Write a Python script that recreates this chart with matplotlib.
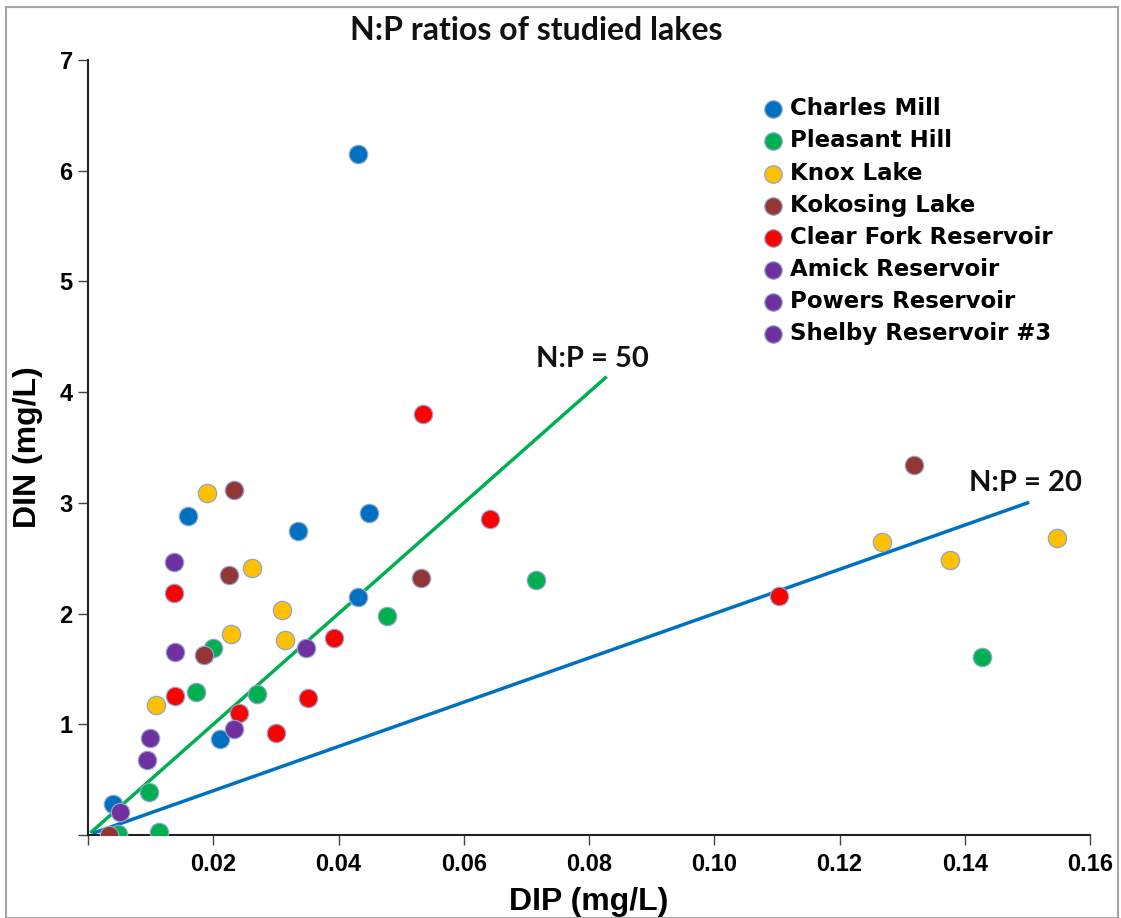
import matplotlib
matplotlib.use("Agg")
import matplotlib.pyplot as plt
from matplotlib.patches import Rectangle

# DIP (mg/L) and DIN (mg/L) per lake
charles_x = [0.0431, 0.0160, 0.0335, 0.0449, 0.0431, 0.0211, 0.0040]
charles_y = [6.15, 2.88, 2.75, 2.91, 2.15, 0.87, 0.28]
pleasant_x = [0.0200, 0.0172, 0.0270, 0.0097, 0.0113, 0.0048, 0.0477, 0.0715, 0.1427]
pleasant_y = [1.69, 1.29, 1.27, 0.39, 0.03, 0.01, 1.98, 2.30, 1.61]
knox_x = [0.0190, 0.0262, 0.0310, 0.0228, 0.0314, 0.0109, 0.1267, 0.1377, 0.1547]
knox_y = [3.09, 2.41, 2.03, 1.82, 1.76, 1.17, 2.65, 2.48, 2.68]
kokosing_x = [0.0233, 0.0225, 0.0185, 0.0034, 0.0532, 0.1318]
kokosing_y = [3.12, 2.35, 1.63, 0.00, 2.32, 3.34]
clearfork_x = [0.0535, 0.0642, 0.0137, 0.0393, 0.0139, 0.0241, 0.0351, 0.0300, 0.1103]
clearfork_y = [3.80, 2.85, 2.19, 1.78, 1.26, 1.10, 1.24, 0.92, 2.16]
amick_x = [0.0137, 0.0139, 0.0348]
amick_y = [2.47, 1.65, 1.69]
powers_x = [0.0233, 0.0099]
powers_y = [0.96, 0.88]
shelby_x = [0.0094, 0.0051]
shelby_y = [0.68, 0.21]

lakes = ["Charles Mill", "Pleasant Hill", "Knox Lake", "Kokosing Lake",
         "Clear Fork Reservoir", "Amick Reservoir", "Powers Reservoir",
         "Shelby Reservoir #3"]
colors = ["#0070C0", "#00B050", "#FFC000", "#943634", "#FF0000",
          "#7030A0", "#7030A0", "#7030A0"]
xs = [charles_x, pleasant_x, knox_x, kokosing_x, clearfork_x, amick_x, powers_x, shelby_x]
ys = [charles_y, pleasant_y, knox_y, kokosing_y, clearfork_y, amick_y, powers_y, shelby_y]

# reference lines N:P = 50 and N:P = 20
line50_x = [0.0006, 0.0826]
line20_x = [0.0010, 0.1500]

narrow = ["Liberation Sans Narrow", "Liberation Sans", "DejaVu Sans"]
calibri_like = ["Lato", "DejaVu Sans"]

fig = plt.figure(figsize=(11.21, 9.18), dpi=100)
ax = fig.add_axes([0.0785, 0.0904, 0.894, 0.8442])

ax.plot(line50_x, [50 * v for v in line50_x], color="#00B050", lw=2.5, zorder=2)
ax.plot(line20_x, [20 * v for v in line20_x], color="#0070C0", lw=2.5, zorder=2)

for name, c, x, y in zip(lakes, colors, xs, ys):
    ax.scatter(x, y, s=175, color=c, edgecolor="#8EA6CF", linewidth=0.9,
               label=name, zorder=3)

ax.text(0.0806, 4.30, "N:P = 50", fontsize=21, fontweight="bold",
        family=calibri_like, color="#111111", ha="center", va="center")
ax.text(0.1497, 3.18, "N:P = 20", fontsize=21, fontweight="bold",
        family=calibri_like, color="#111111", ha="center", va="center")

ax.set_xlim(0, 0.16)
ax.set_ylim(0, 7)
ax.set_xticks([0, 0.02, 0.04, 0.06, 0.08, 0.10, 0.12, 0.14, 0.16])
ax.set_xticklabels(["", "0.02", "0.04", "0.06", "0.08", "0.10", "0.12", "0.14", "0.16"])
ax.set_yticks(range(8))
ax.set_yticklabels(["", "1", "2", "3", "4", "5", "6", "7"])
for lab in ax.get_xticklabels() + ax.get_yticklabels():
    lab.set_fontsize(17)
    lab.set_fontweight("bold")
    lab.set_family(narrow)
ax.tick_params(axis="x", direction="out", length=7, width=1.0, color="#444444", pad=6)
ax.tick_params(axis="y", direction="out", length=7, width=1.0, color="#444444", pad=4)

for side in ["top", "right"]:
    ax.spines[side].set_visible(False)
for side in ["left", "bottom"]:
    ax.spines[side].set_linewidth(1.5)
    ax.spines[side].set_color("#222222")

ax.set_xlabel("DIP (mg/L)", fontsize=23, fontweight="bold", family=narrow, labelpad=8)
ax.set_ylabel("DIN (mg/L)", fontsize=23, fontweight="bold", family=narrow, labelpad=12)

fig.text(0.478, 0.967, "N:P ratios of studied lakes", fontsize=23, fontweight="bold",
         family=calibri_like, color="#111111", ha="center", va="center")

leg = ax.legend(loc="upper left", bbox_to_anchor=(0.670, 0.904),
                bbox_transform=fig.transFigure, frameon=False,
                prop={"size": 16.5, "weight": "bold"}, handletextpad=0.2,
                labelspacing=0.40, borderaxespad=0, markerscale=0.95,
                handlelength=1.1)

# thin grey frame around the whole figure
fig.patches.append(Rectangle((0.005, 0.0), 0.992, 0.992, transform=fig.transFigure,
                             fill=False, edgecolor="#A6A6A6", linewidth=1.5))

plt.savefig("out.png", dpi=100)
